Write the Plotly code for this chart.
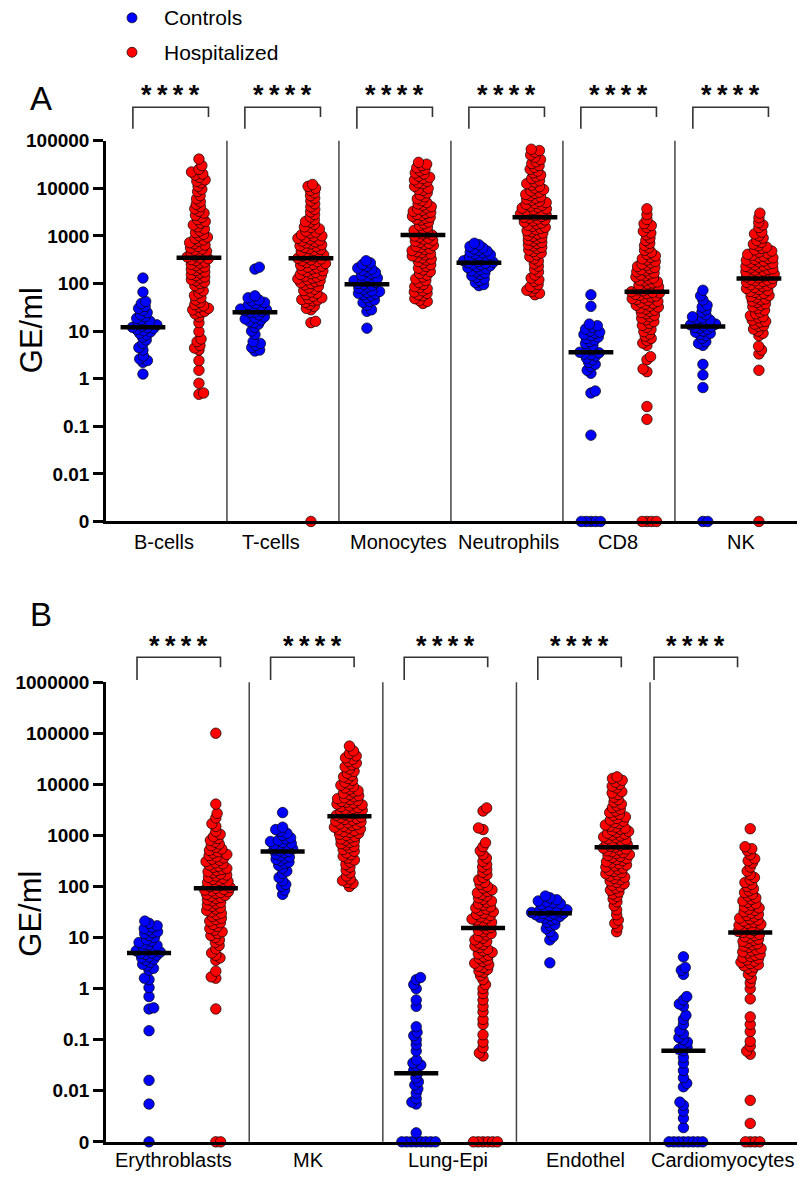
import numpy as np
import plotly.graph_objects as go

# GE/ml per sample (0 = not detected)
cells_a = ["B-cells", "T-cells", "Monocytes", "Neutrophils", "CD8", "NK"]
cells_b = ["Erythroblasts", "MK", "Lung-Epi", "Endothel", "Cardiomyocytes"]
groups = ["Controls", "Hospitalized"]
colors = ["#0000ff", "#ff0000"]

bcells_ctrl = [1.25, 2.2, 2.4, 2.6, 3.0, 4.0, 4.5, 5.5, 6.5, 7.5, 8.3, 9.0, 9.6, 10.2, 10.8, 11.4, 11.8,
               12, 12.7, 13.5, 14.3, 15.2, 16.2, 17.3, 18.5, 20, 22, 24.5, 27, 30, 33, 38, 42, 66, 130]
bcells_hosp = [0.47, 0.5, 0.8, 1.5, 2.4, 4.0, 4.4, 5.0, 6.0, 6.8, 9.8, 15, 20, 23, 25, 26, 28, 30, 32,
               34, 36, 40, 45, 50, 56, 63, 70, 80, 90, 100, 107, 114, 121, 129, 137, 146, 155, 165,
               175, 186, 198, 210, 223, 237, 252, 267, 283, 300, 317, 331, 345, 360, 380, 400, 425,
               450, 475, 500, 530, 560, 600, 640, 680, 720, 770, 820, 880, 940, 1000, 1080, 1170,
               1270, 1400, 1550, 1700, 1850, 2000, 2200, 2450, 2700, 3000, 3300, 3700, 4100, 4600,
               5200, 6000, 7000, 8500, 9500, 11000, 13000, 14000, 15000, 17000, 19000, 20000,
               22000, 25000, 30000, 41000]

tcells_ctrl = [3.8, 4.0, 4.5, 5.0, 5.5, 6.0, 8.5, 10, 12, 14, 15, 16, 17, 18, 19, 20, 22, 24.8, 25,
               26, 27, 28, 29, 30, 32, 34, 36, 38, 40, 43, 45, 50, 55, 200, 220]
tcells_hosp = [0, 15, 16, 28, 30, 33, 36, 40, 43, 45, 46, 48, 50, 54, 58, 62, 66, 71, 76, 81, 87, 93,
               100, 104, 109, 114, 119, 125, 130, 136, 142, 149, 155, 162, 170, 177, 185, 194, 202,
               211, 221, 231, 241, 252, 264, 275, 288, 301, 314, 327, 339, 352, 366, 380, 398, 415,
               435, 455, 475, 495, 520, 545, 570, 595, 620, 650, 680, 710, 745, 780, 815, 850, 890,
               930, 975, 1000, 1050, 1150, 1200, 1250, 1400, 1500, 1550, 1750, 1950, 2000, 2200,
               2500, 2800, 3200, 3600, 4100, 4700, 5400, 6200, 7000, 8000, 9000, 10000, 11000, 12000]

mono_ctrl = [11.5, 26, 28, 35, 40, 42, 45, 50, 55, 58, 60, 62, 65, 68, 70, 75, 80, 85, 90, 96, 100,
             105, 110, 115, 120, 125, 130, 140, 150, 160, 170, 180, 190, 200, 210, 230, 250, 270, 300]
mono_hosp = [38, 42, 44, 48, 55, 58, 62, 66, 70, 78, 82, 86, 95, 105, 115, 125, 137, 150, 163, 178,
             193, 210, 228, 247, 268, 290, 310, 326, 343, 361, 380, 400, 421, 443, 466, 490, 515,
             542, 570, 600, 631, 664, 698, 734, 772, 812, 854, 898, 945, 994, 1045, 1100, 1160,
             1230, 1300, 1400, 1520, 1650, 1800, 1960, 2150, 2250, 2350, 2460, 2580, 2700, 2830,
             2970, 3120, 3280, 3450, 3650, 3850, 4100, 4400, 4700, 5000, 5500, 6000, 6600, 7200,
             8000, 9000, 9500, 10000, 11000, 12500, 13000, 14000, 15000, 16000, 17000, 18000,
             20000, 21000, 23000, 25000, 27000, 30000, 32000, 35000]

neutro_ctrl = [90, 95, 105, 115, 125, 135, 145, 155, 165, 175, 185, 195, 205, 215, 225, 235, 245, 255,
               265, 272, 280, 290, 300, 315, 330, 345, 360, 380, 400, 420, 440, 460, 480, 500, 530,
               560, 600, 650, 700]
neutro_hosp = [58, 62, 68, 72, 80, 86, 95, 110, 120, 130, 150, 175, 200, 230, 260, 295, 330, 365, 400,
               435, 470, 505, 540, 575, 610, 650, 690, 730, 775, 820, 870, 920, 975, 1030, 1090,
               1150, 1215, 1285, 1355, 1430, 1510, 1590, 1675, 1765, 1860, 1960, 2060, 2160, 2260,
               2360, 2460, 2560, 2660, 2770, 2880, 3000, 3120, 3250, 3400, 3550, 3700, 3850, 4000,
               4200, 4400, 4600, 4800, 5000, 5300, 5600, 5900, 6200, 6600, 7000, 7400, 7800, 8300,
               8800, 9400, 10000, 10800, 11600, 12500, 13500, 14500, 16000, 17500, 19000, 21000,
               23000, 25000, 27500, 30000, 33000, 36000, 40000, 45000, 50000, 57000, 62000, 66000]

cd8_ctrl = [0, 0, 0, 0, 0, 0.065, 0.5, 0.55, 1.3, 1.5, 1.8, 2.0, 2.2, 2.5, 2.7, 3.0, 3.2, 3.3, 3.5,
            3.6, 4.0, 4.5, 5.0, 5.5, 6.0, 6.5, 7.0, 7.5, 8.0, 8.5, 9.0, 9.5, 10, 11, 12, 13, 14, 33, 58]
cd8_hosp = [0, 0, 0, 0, 0.14, 0.26, 1.4, 1.6, 2.5, 2.9, 5.0, 5.6, 6.3, 7.0, 7.8, 8.7, 9.7, 10.8, 12.0,
            13.2, 14.5, 15.8, 17.2, 18.6, 20.0, 21.5, 23.0, 24.5, 26.0, 27.5, 29.0, 30.5, 32, 33.5,
            35, 36.7, 38.4, 40.2, 42, 44, 46, 48, 50, 52.2, 54.4, 56.7, 59, 61.3, 63.5, 65, 67, 70,
            73.5, 77, 81, 85, 89, 93, 98, 103, 108, 113, 118, 124, 130, 137, 144, 151, 159, 167,
            176, 185, 195, 205, 216, 228, 240, 255, 270, 290, 310, 330, 355, 380, 410, 450, 500,
            560, 630, 700, 800, 900, 1050, 1150, 1250, 1500, 1650, 1800, 2200, 2800, 3700]

nk_ctrl = [0, 0, 0.65, 1.2, 2.0, 5.0, 5.5, 6.0, 7.0, 8.0, 8.5, 9.0, 9.5, 10, 11, 11.5, 12, 12.4, 13,
           13.5, 14, 15, 16, 17, 18, 19, 20, 22, 25, 28, 32, 35, 45, 55, 72]
nk_hosp = [0, 1.5, 3.3, 4.0, 4.8, 8, 9, 10, 11, 12.5, 13, 14, 15.5, 16, 17, 19, 20, 21, 23, 25, 27.5,
           30, 32.5, 35, 37.5, 40, 42.5, 45, 47.5, 50, 53, 56, 59, 62, 65, 68, 71.5, 75, 78.5, 82,
           86, 90, 94, 98, 102, 106, 110, 114, 118, 122, 127, 132, 137, 142, 147, 152, 158, 164,
           170, 176, 183, 190, 197, 204, 212, 220, 228, 236, 245, 254, 264, 274, 285, 296, 308,
           320, 333, 346, 360, 375, 390, 410, 430, 455, 480, 510, 545, 580, 620, 670, 730, 800,
           900, 1000, 1100, 1200, 1500, 1700, 1900, 2400, 3000]

ery_ctrl = [0, 0.0055, 0.016, 0.15, 0.4, 0.42, 0.7, 1.05, 1.5, 1.6, 2.3, 2.5, 2.8, 3.0, 3.3, 3.6, 3.8,
            4.0, 4.2, 4.5, 4.7, 4.9, 5.0, 5.2, 5.5, 5.8, 6.0, 6.5, 7.0, 7.2, 7.5, 8.0, 8.5, 9.0, 10,
            11, 12, 12.5, 13, 14, 15, 16, 17, 19, 21]
ery_hosp = [0, 0, 0.4, 1.6, 1.7, 2.2, 3.6, 4.0, 4.5, 5.0, 6.0, 7.0, 8.0, 9.0, 10, 11, 12, 13, 14, 15,
            16.5, 18, 19.5, 21, 22.5, 24, 26, 28, 30, 32, 34, 36, 38.5, 41, 43.5, 46, 49, 52, 55, 58,
            61, 64, 67, 70, 73, 76, 79, 82, 85, 88, 92, 96, 100, 105, 110, 115, 120, 126, 132, 138,
            145, 152, 160, 168, 176, 185, 195, 205, 215, 226, 238, 250, 263, 277, 292, 308, 325,
            343, 362, 382, 403, 425, 450, 480, 510, 545, 585, 630, 680, 740, 800, 870, 950, 1050,
            1200, 1500, 1700, 2200, 2700, 4100, 100000]

mk_ctrl = [70, 85, 100, 110, 130, 150, 180, 200, 230, 260, 280, 300, 320, 340, 360, 380, 400, 430,
           460, 484, 500, 520, 550, 580, 600, 630, 660, 700, 730, 760, 800, 850, 900, 1000, 1100,
           1200, 1300, 1450, 2800]
mk_hosp = [100, 115, 120, 130, 140, 160, 185, 210, 240, 270, 300, 330, 360, 390, 420, 455, 490, 530,
           570, 610, 650, 690, 730, 770, 810, 855, 900, 950, 1000, 1050, 1100, 1145, 1190, 1240,
           1290, 1340, 1395, 1450, 1510, 1570, 1630, 1695, 1760, 1830, 1905, 1980, 2060, 2140,
           2225, 2300, 2380, 2470, 2570, 2670, 2780, 2890, 3000, 3120, 3250, 3380, 3520, 3660,
           3810, 3960, 4120, 4290, 4460, 4640, 4830, 5030, 5240, 5460, 5700, 6000, 6300, 6700,
           7100, 7500, 8000, 8500, 9000, 9600, 10200, 11000, 12000, 13000, 14000, 15000, 16500,
           18000, 20000, 22000, 24000, 26000, 28000, 31000, 33000, 36000, 40000, 45000, 56000]

lung_ctrl = [0, 0, 0, 0, 0, 0, 0, 0, 0.0015, 0.0055, 0.006, 0.007, 0.009, 0.011, 0.013, 0.015, 0.018,
             0.022, 0.025, 0.03, 0.032, 0.035, 0.04, 0.06, 0.08, 0.1, 0.12, 0.14, 0.18, 0.45, 0.6,
             1.0, 1.2, 1.5, 1.65]
lung_hosp = [0, 0, 0, 0, 0, 0, 0.048, 0.055, 0.07, 0.09, 0.125, 0.2, 0.25, 0.35, 0.45, 0.6, 0.8, 1.0,
             1.2, 1.5, 1.8, 2.1, 2.2, 2.4, 2.6, 2.75, 2.95, 3.15, 3.4, 3.65, 3.9, 4.2, 4.5, 4.8,
             5.15, 5.5, 5.9, 6.35, 6.8, 7.3, 7.85, 8.4, 9.0, 9.7, 10.4, 11.2, 12.0, 12.9, 13.8,
             14.8, 15.8, 16.9, 18, 19, 20, 21, 22, 23, 24, 25.5, 27, 28.5, 30, 32, 34, 36, 38, 40,
             43, 46, 49, 52, 56, 60, 65, 70, 75, 80, 86, 93, 100, 110, 120, 135, 150, 170, 190, 215,
             240, 270, 310, 360, 420, 500, 600, 720, 1300, 1400, 3000, 3450]

endo_ctrl = [3.2, 9.0, 10.5, 13, 15, 17, 18, 20, 22, 23, 24, 25, 26, 27, 28, 29, 29.5, 30, 31, 32, 33,
             34, 35, 36, 38, 40, 42, 44, 46, 48, 50, 52, 55, 60, 65]
endo_hosp = [13, 16, 19, 22, 28, 35, 42, 50, 57, 64, 71, 78, 85, 92, 99, 106, 113, 120, 128, 136, 144,
             152, 160, 169, 178, 187, 197, 207, 218, 229, 240, 252, 265, 278, 292, 306, 321, 337,
             353, 370, 388, 405, 422, 440, 459, 479, 500, 521, 543, 565, 588, 613, 640, 668, 697,
             727, 758, 790, 824, 860, 897, 935, 975, 1015, 1060, 1105, 1150, 1200, 1260, 1320,
             1380, 1450, 1520, 1600, 1700, 1800, 1900, 2000, 2150, 2300, 2450, 2600, 2800, 3000,
             3250, 3500, 3800, 4100, 4500, 5000, 5600, 6300, 6800, 7200, 8500, 9200, 10000, 11000,
             12000, 13000, 14000]

cardio_ctrl = [0, 0, 0, 0, 0, 0, 0, 0, 0.0019, 0.0029, 0.004, 0.0052, 0.006, 0.012, 0.014, 0.018,
               0.025, 0.035, 0.045, 0.061, 0.065, 0.07, 0.08, 0.09, 0.1, 0.11, 0.13, 0.15, 0.2,
               0.25, 0.3, 0.45, 0.5, 0.6, 0.7, 1.9, 2.3, 2.6, 4.2]
cardio_hosp = [0, 0, 0, 0, 0.0023, 0.0065, 0.052, 0.06, 0.075, 0.093, 0.145, 0.2, 0.28, 0.63, 1.0,
               1.3, 1.6, 1.9, 2.2, 2.5, 2.65, 2.8, 2.95, 3.1, 3.3, 3.45, 3.65, 3.85, 4.05, 4.25, 4.5,
               4.7, 5.0, 5.25, 5.5, 5.8, 6.1, 6.45, 6.8, 7.2, 7.55, 7.95, 8.4, 8.85, 9.3, 9.8, 10.4,
               10.9, 11.5, 12.1, 12.6, 13.2, 13.8, 14.5, 15.2, 15.9, 16.6, 17.4, 18.2, 19, 20, 21,
               22, 23, 24, 25.5, 27, 28.5, 30, 32, 34, 36, 38, 40, 43, 46, 49, 52, 56, 60, 65, 70,
               76, 82, 90, 100, 110, 120, 135, 150, 170, 200, 240, 290, 320, 350, 420, 500, 550,
               600, 1350]

panel_a = [(bcells_ctrl, bcells_hosp), (tcells_ctrl, tcells_hosp), (mono_ctrl, mono_hosp),
           (neutro_ctrl, neutro_hosp), (cd8_ctrl, cd8_hosp), (nk_ctrl, nk_hosp)]
panel_b = [(ery_ctrl, ery_hosp), (mk_ctrl, mk_hosp), (lung_ctrl, lung_hosp),
           (endo_ctrl, endo_hosp), (cardio_ctrl, cardio_hosp)]

# ---------------------------------------------------------------- layout
W, H = 800, 1184
ML, MR = 106, 3
PW = W - ML - MR
ZERO = 1e-3          # the "0" row sits one decade below 0.01
FONT = "Liberation Sans, Arial, sans-serif"
DOT = 10.5           # marker diameter, px
GAP = 4.8            # closest allowed centre distance in the swarm, px (dots overlap)


def xp(px):
    return (px - ML) / PW


def yp(py):
    return 1 - py / H


panels = [
    dict(label="A", cells=cells_a, data=panel_a, xa="x", ya="y", xrange=[-0.66, 11.68],
         dec=[-3, 5], top=133, bottom=520.7, label_y=90, title_y=326, tick_y=542,
         label_x=[0.375, 2.29, 4.57, 6.52, 8.48, 10.68],
         br=dict(star=87, top=99, left=121, right=109, l=-0.18, r=1.17,
                 shift=[0, 0, 0, 0, 0, 0]),
         half=0.4),
    dict(label="B", cells=cells_b, data=panel_b, xa="x2", ya="y2", xrange=[-0.644, 9.70],
         dec=[-3, 6], top=684.3, bottom=1152.3, label_y=615, title_y=920, tick_y=1171,
         label_x=[0.37, 2.38, 4.48, 6.54, 8.59],
         br=dict(star=647, top=659, left=682, right=669, l=-0.18, r=1.07,
                 shift=[0, 0, 0, 0, -0.26]),
         half=0.33),
]


def swarm(vals, ppd, dmin=GAP):
    # greedy beeswarm in pixel space, closest free slot to the centre
    y = np.log10(np.maximum(np.asarray(vals, float), ZERO)) * ppd
    order = np.argsort(y, kind="stable")
    x = np.zeros(len(y))
    placed = []
    side = 1.0
    for i in order:
        spans = []
        for j in placed:
            dy = abs(y[j] - y[i])
            if dy < dmin:
                dx = np.sqrt(dmin * dmin - dy * dy)
                spans.append((x[j] - dx, x[j] + dx))
        cands = [0.0] + [e for s in spans for e in s]
        free = [c for c in cands if not any(a + 1e-6 < c < b - 1e-6 for a, b in spans)]
        best = min(free, key=lambda c: (round(abs(c), 3), -side * c))
        if best != 0:
            side = -side
        x[i] = best
        placed.append(i)
    return x


fig = go.Figure()
shapes, annotations = [], []

for p in panels:
    ppu = PW / (p["xrange"][1] - p["xrange"][0])
    ppd = (p["bottom"] - p["top"]) / (p["dec"][1] - p["dec"][0])
    for k, pair in enumerate(p["data"]):
        for g, vals in enumerate(pair):
            c = 2 * k + g
            vals = np.asarray(vals, float)
            off = swarm(vals, ppd) / ppu
            fig.add_trace(go.Scatter(
                x=c + off, y=np.maximum(vals, ZERO), xaxis=p["xa"], yaxis=p["ya"],
                mode="markers", cliponaxis=False, showlegend=False, name=groups[g],
                marker=dict(size=DOT, color=colors[g], line=dict(color="black", width=0.7))))
            med = np.median(vals)
            fig.add_trace(go.Scatter(
                x=[c - p["half"], c + p["half"]], y=[med, med], xaxis=p["xa"], yaxis=p["ya"],
                mode="lines", line=dict(color="black", width=4.5), showlegend=False,
                hoverinfo="skip", cliponaxis=False))
        # separator between cell types
        if k > 0:
            shapes.append(dict(type="line", xref=p["xa"], yref=p["ya"] + " domain",
                               x0=2 * k - 0.5, x1=2 * k - 0.5, y0=0, y1=1, layer="below",
                               line=dict(color="#444444", width=1.5)))
        # significance bracket
        b = p["br"]
        x0 = 2 * k + b["l"] + b["shift"][k]
        x1 = 2 * k + b["r"] + b["shift"][k]
        shapes.append(dict(type="path", xref=p["xa"], yref="paper",
                           path=f"M {x0},{yp(b['left'])} L {x0},{yp(b['top'])} "
                                f"L {x1},{yp(b['top'])} L {x1},{yp(b['right'])}",
                           line=dict(color="#333333", width=1.6)))
        annotations.append(dict(text="*\u2009*\u2009*\u2009*", xref=p["xa"], yref="paper",
                                x=(x0 + x1) / 2, y=yp(b["star"]), showarrow=False,
                                xanchor="center", yanchor="middle",
                                font=dict(size=27, family=FONT, color="black", weight="bold")))
        annotations.append(dict(text=p["cells"][k], xref=p["xa"], yref="paper",
                                x=p["label_x"][k], y=yp(p["tick_y"]), showarrow=False,
                                xanchor="center", yanchor="middle",
                                font=dict(size=20, family=FONT, color="black")))
    annotations.append(dict(text=p["label"], xref="paper", yref="paper", x=xp(41),
                            y=yp(p["label_y"]), showarrow=False, xanchor="center",
                            yanchor="middle", font=dict(size=33, family=FONT, color="black")))
    annotations.append(dict(text="GE/ml", xref="paper", yref="paper", x=xp(31),
                            y=yp(p["title_y"]), showarrow=False, textangle=-90,
                            xanchor="center", yanchor="middle",
                            font=dict(size=31, family=FONT, color="black")))

# legend drawn by hand at the top
for g, ly in enumerate([8, 43]):
    shapes.append(dict(type="circle", xref="paper", yref="paper", xsizemode="pixel",
                       ysizemode="pixel", xanchor=xp(132), yanchor=yp(ly),
                       x0=-5, x1=5, y0=-5, y1=5, fillcolor=colors[g],
                       line=dict(color="black", width=0.7)))
    annotations.append(dict(text=groups[g], xref="paper", yref="paper", x=xp(162),
                            y=yp(ly), showarrow=False, xanchor="left", yanchor="middle",
                            font=dict(size=21, family=FONT, color="black")))

axis_x = dict(showline=True, linecolor="black", linewidth=3, ticks="", showticklabels=False,
              showgrid=False, zeroline=False, domain=[0, 1])
for i, p in enumerate(panels):
    ticks = [10.0 ** d for d in range(p["dec"][0], p["dec"][1] + 1)]
    text = ["0"] + [f"{t:g}" if t < 1 else f"{int(t)}" for t in ticks[1:]]
    yaxis = dict(type="log", range=p["dec"], domain=[yp(p["bottom"]), yp(p["top"])],
                 tickvals=ticks, ticktext=text, ticks="outside", ticklen=10, tickwidth=2.5,
                 tickcolor="black", showline=True, linecolor="black", linewidth=2.5,
                 showgrid=False, zeroline=False,
                 tickfont=dict(size=19, family=FONT, color="black", weight="bold"))
    suffix = "" if i == 0 else "2"
    fig.update_layout({"xaxis" + suffix: dict(axis_x, range=p["xrange"], anchor="y" + suffix),
                       "yaxis" + suffix: dict(yaxis, anchor="x" + suffix)})

fig.update_layout(width=W, height=H, margin=dict(l=ML, r=MR, t=0, b=0),
                  plot_bgcolor="white", paper_bgcolor="white", showlegend=False,
                  shapes=shapes, annotations=annotations, font=dict(family=FONT))

# the page's default 8px body margin would shift the figure
fig.write_html("out.html", config={"displayModeBar": False},
               post_script="document.body.style.margin='0';")
